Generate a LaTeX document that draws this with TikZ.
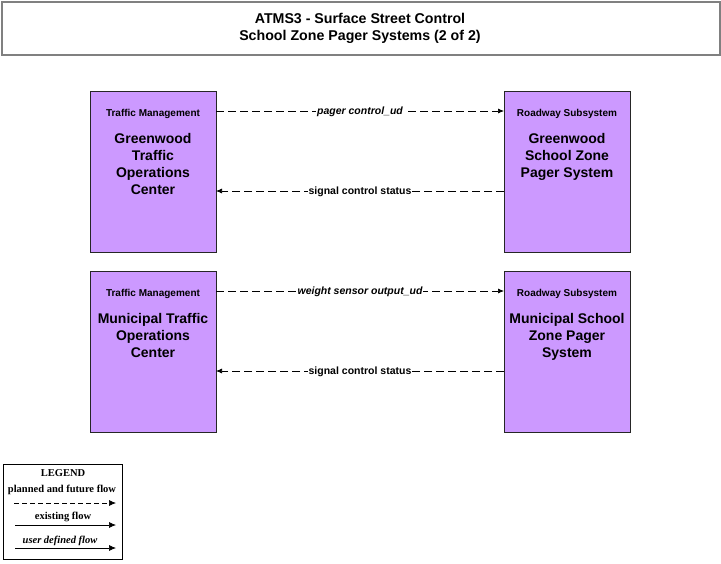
\documentclass[tikz,border=0pt]{standalone}
\usepackage{fontspec}
\setmainfont{Liberation Sans}
\newfontfamily\legfont{Liberation Serif}
\usetikzlibrary{arrows.meta}
\definecolor{boxfill}{RGB}{204,153,255}
\definecolor{titleborder}{RGB}{128,128,128}
\tikzset{
  sysbox/.style={draw=black!85, fill=boxfill, line width=0.8pt, minimum width=126pt, minimum height=161pt, anchor=north west, inner sep=0pt},
  cat/.style={font=\bfseries\fontsize{10}{12}\selectfont, anchor=center},
  mainname/.style={font=\bfseries\fontsize{14}{17}\selectfont, align=center, anchor=center},
  flow/.style={dash pattern=on 8pt off 4pt, line width=0.7pt, -{Latex[length=6pt,width=5pt]}},
  flowlbl/.style={fill=white, inner sep=0.8pt, yshift=-1pt, font=\bfseries\fontsize{10.5}{12}\selectfont},
  legtext/.style={font=\legfont\bfseries\fontsize{10.5}{12}\selectfont},
}
\begin{document}
\begin{tikzpicture}[x=1pt,y=-1pt]
\useasboundingbox (0,0) rectangle (721,563);
\fill[white] (0,0) rectangle (721,563);
% title
\node[draw=titleborder, line width=1.8pt, minimum width=718pt, minimum height=53pt, anchor=north west, inner sep=0pt] (title) at (1,1) {};
\node[font=\bfseries\fontsize{14.2}{17}\selectfont, align=center] (titletext) at (360,28.5) {ATMS3 - Surface Street Control\\School Zone Pager Systems (2 of 2)};
% boxes
\node[sysbox] (gtoc) at (90,91) {};
\node[sysbox] (gszp) at (504,91) {};
\node[sysbox] (mtoc) at (90,271) {};
\node[sysbox] (mszp) at (504,271) {};
\node[cat] (gtocc) at (153,113.5) {Traffic Management};
\node[cat] (gszpc) at (567,113.5) {Roadway Subsystem};
\node[cat] (mtocc) at (153,293.5) {Traffic Management};
\node[cat] (mszpc) at (567,293.5) {Roadway Subsystem};
\node[mainname] (gtocn) at (153,163.5) {Greenwood\\Traffic\\Operations\\Center};
\node[mainname] (gszpn) at (567,157) {Greenwood\\School Zone\\Pager System};
\node[mainname] (mtocn) at (153,335) {Municipal Traffic\\Operations\\Center};
\node[mainname] (mszpn) at (567,337) {Municipal School\\Zone Pager\\System};
% flows
\coordinate (a1s) at (216,111); \coordinate (a1e) at (504,111);
\coordinate (a2s) at (504,191); \coordinate (a2e) at (216,191);
\coordinate (a3s) at (216,291); \coordinate (a3e) at (504,291);
\coordinate (a4s) at (504,371); \coordinate (a4e) at (216,371);
\draw[flow] (a1s) -- node[flowlbl] {\itshape pager control\_ud} (a1e);
\draw[flow] (a2s) -- node[flowlbl] {signal control status} (a2e);
\draw[flow] (a3s) -- node[flowlbl] {\itshape weight sensor output\_ud} (a3e);
\draw[flow] (a4s) -- node[flowlbl] {signal control status} (a4e);
% legend
\node[draw=black, line width=0.8pt, minimum width=119pt, minimum height=95pt, anchor=north west, inner sep=0pt] (legend) at (3,464) {};
\node[legtext] (legt) at (63,473) {LEGEND};
\node[legtext] (leg1) at (62,490) {planned and future flow};
\coordinate (l1s) at (14,503); \coordinate (l1e) at (116,503);
\draw[line width=0.7pt, dash pattern=on 5pt off 3pt, -{Latex[length=7pt,width=6pt]}] (l1s) -- (l1e);
\node[legtext] (leg2) at (63,517) {existing flow};
\coordinate (l2s) at (15,525); \coordinate (l2e) at (116,525);
\draw[line width=0.7pt, -{Latex[length=7pt,width=6pt]}] (l2s) -- (l2e);
\node[legtext] (leg3) at (60,541) {\itshape user defined flow};
\coordinate (l3s) at (15,548); \coordinate (l3e) at (116,548);
\draw[line width=0.7pt, -{Latex[length=7pt,width=6pt]}] (l3s) -- (l3e);
\end{tikzpicture}
\end{document}
